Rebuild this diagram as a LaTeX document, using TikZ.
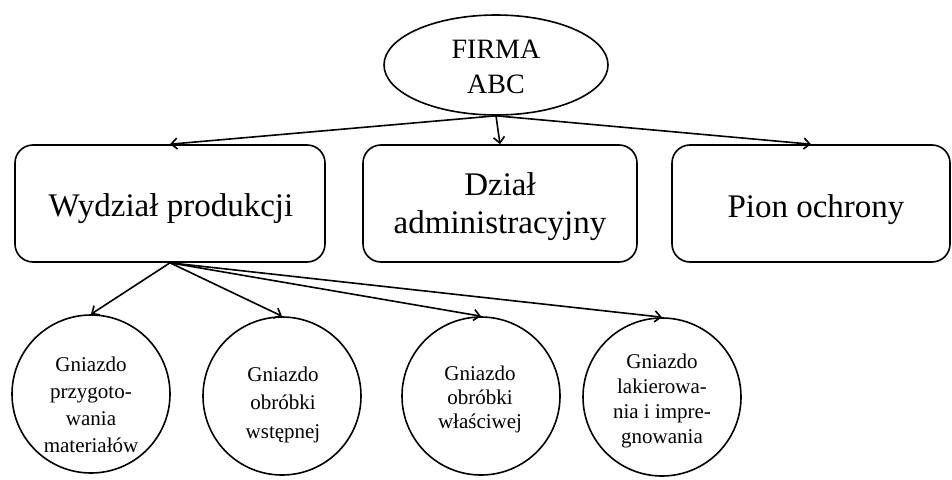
\documentclass[tikz,border=0pt]{standalone}
\usepackage{fontspec}
\setmainfont{Liberation Serif}
\usetikzlibrary{shapes.geometric,arrows.meta}
\begin{document}
\begin{tikzpicture}[x=1pt,y=-1pt,
  line width=1.6pt,
  conn/.style={-{Straight Barb[length=6pt,width=11pt]}},
  unit/.style={draw, rounded corners=18pt, minimum height=117pt, inner sep=0pt},
  cell/.style={draw, circle, minimum size=158pt, inner sep=0pt},
  txt/.style={align=center, anchor=base, inner sep=0pt}]
\useasboundingbox (0,0) rectangle (952,479);

% shapes
\node[draw, ellipse, minimum width=224pt, minimum height=100pt, inner sep=0pt] (e) at (496,65) {};
\node[unit, minimum width=310pt] (b1) at (170,203.5) {};
\node[unit, minimum width=274pt] (b2) at (500,203.5) {};
\node[unit, minimum width=278pt] (b3) at (811,203.5) {};
\node[cell] (c1) at (91,394) {};
\node[cell] (c2) at (282,396) {};
\node[cell] (c3) at (481,396) {};
\node[cell] (c4) at (662,397) {};

% texts (base anchor = baseline of the last line)
\node[txt, font=\fontsize{28}{35}\selectfont] (te) at (496,93) {FIRMA\\ABC};
\node[txt, font=\fontsize{33}{38}\selectfont] (tb1) at (171,216) {Wydział produkcji};
\node[txt, font=\fontsize{33}{38}\selectfont] (tb2) at (500,233) {Dział\\administracyjny};
\node[txt, font=\fontsize{33}{38}\selectfont] (tb3) at (816,217) {Pion ochrony};
\node[txt, font=\fontsize{21}{27}\selectfont] (tc1) at (91,452) {Gniazdo\\przygoto-\\wania\\materiałów};
\node[txt, font=\fontsize{21}{28.5}\selectfont] (tc2) at (283,438) {Gniazdo\\obróbki\\wstępnej};
\node[txt, font=\fontsize{21}{24}\selectfont] (tc3) at (480,428) {Gniazdo\\obróbki\\właściwej};
\node[txt, font=\fontsize{21}{25}\selectfont] (tc4) at (662,443) {Gniazdo\\lakierowa-\\nia i impre-\\gnowania};

% connectors
\draw[conn] (e.south) -- (b1.north);
\draw[conn] (e.south) -- (b2.north);
\draw[conn] (e.south) -- (b3.north);
\draw[conn] (b1.south) -- (c1.north);
\draw[conn] (b1.south) -- (c2.north);
\draw[conn] (b1.south) -- (c3.north);
\draw[conn] (b1.south) -- (c4.north);
\end{tikzpicture}
\end{document}
